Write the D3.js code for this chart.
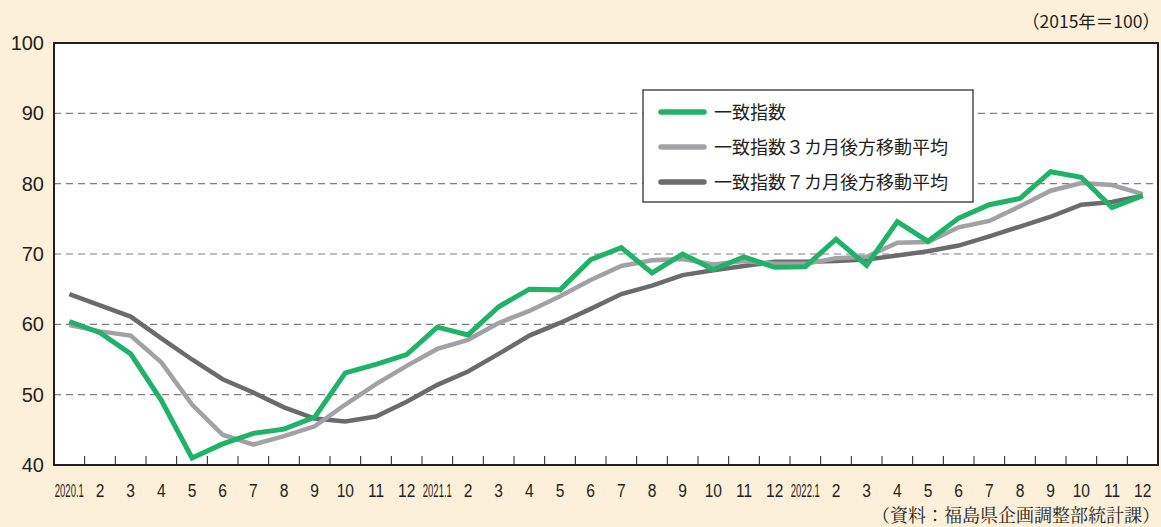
<!DOCTYPE html>
<html><head><meta charset="utf-8">
<script src="https://cdn.jsdelivr.net/npm/d3@7"></script>
<style>
html,body{margin:0;padding:0;background:#fdf0da;}
svg{display:block;}
</style></head>
<body>
<svg id="c" width="1161" height="527"></svg>
<script>
const months = ["2020.1","2","3","4","5","6","7","8","9","10","11","12",
  "2021.1","2","3","4","5","6","7","8","9","10","11","12",
  "2022.1","2","3","4","5","6","7","8","9","10","11","12"];
const coincident = [60.4,58.8,55.8,49.2,41.0,43.0,44.5,45.1,46.8,53.1,54.3,55.7,
  59.6,58.5,62.5,65.0,64.9,69.2,70.9,67.3,70.0,67.8,69.6,68.1,
  68.2,72.1,68.4,74.6,71.8,75.1,77.0,77.9,81.7,80.9,76.6,78.3];
const ma3 = [59.9,59.0,58.4,54.6,48.6,44.3,42.9,44.1,45.5,48.6,51.5,54.1,
  56.5,57.8,60.2,61.9,64.0,66.3,68.3,69.1,69.3,68.5,69.0,68.6,
  68.6,69.4,69.6,71.6,71.7,73.8,74.7,76.8,79.0,80.1,79.8,78.5];
const ma7 = [64.3,62.7,61.1,58.0,55.0,52.2,50.3,48.2,46.6,46.2,46.9,49.0,
  51.4,53.3,55.8,58.4,60.2,62.2,64.3,65.5,67.0,67.7,68.3,68.9,
  68.9,69.0,69.2,69.8,70.4,71.2,72.5,73.9,75.3,77.0,77.4,78.3];
const yTicks = [40,50,60,70,80,90,100];
const seriesNames = ["一致指数","一致指数３カ月後方移動平均","一致指数７カ月後方移動平均"];
const seriesColors = ["#1fb36a","#a2a2a6","#6b6b6e"];
const seriesData = [coincident, ma3, ma7];

const svg = d3.select("#c");
const L = 54, T = 43, R = 1158, B = 465;
const x = d3.scaleBand().domain(d3.range(months.length)).range([L, R]);
const y = d3.scaleLinear().domain([40, 100]).range([B, T]);

// plot background
svg.append("rect").attr("x", L).attr("y", T).attr("width", R - L).attr("height", B - T).attr("fill", "#fff");

// grid lines
svg.append("g").selectAll("line").data(yTicks.filter(d => d > 40 && d < 100)).join("line")
  .attr("x1", L).attr("x2", R).attr("y1", d => y(d)).attr("y2", d => y(d))
  .attr("stroke", "#7f7f7f").attr("stroke-width", 1.2).attr("stroke-dasharray", "7,5");

// x ticks (between months), pointing up
svg.append("g").selectAll("line").data(d3.range(1, months.length)).join("line")
  .attr("x1", d => x(d)).attr("x2", d => x(d)).attr("y1", B).attr("y2", B - 9)
  .attr("stroke", "#231f20").attr("stroke-width", 1);

// lines
const line = d3.line().x((d, i) => x(i) + x.bandwidth() / 2).y(d => y(d));
[2, 1, 0].forEach(k => {
  svg.append("path").datum(seriesData[k]).attr("d", line)
    .attr("fill", "none").attr("stroke", seriesColors[k])
    .attr("stroke-width", k === 0 ? 5 : 4.5).attr("stroke-linejoin", "miter");
});

// frame
svg.append("rect").attr("x", L).attr("y", T).attr("width", R - L).attr("height", B - T)
  .attr("fill", "none").attr("stroke", "#231f20").attr("stroke-width", 2);

// y labels
svg.append("g").selectAll("text").data(yTicks).join("text")
  .attr("x", 44).attr("y", d => y(d) + 7).attr("text-anchor", "end")
  .attr("font-family", "Liberation Sans, Arial, sans-serif").attr("font-size", 20)
  .attr("fill", "#231f20").text(d => d);

// x labels
svg.append("g").selectAll("text").data(months).join("text")
  .attr("transform", (d, i) => `translate(${x(i) + x.bandwidth() / 2},497) scale(${d.length > 3 ? 0.5 : 0.82},1)`)
  .attr("text-anchor", "middle")
  .attr("font-family", "Liberation Sans, Arial, sans-serif").attr("font-size", 19)
  .attr("fill", "#231f20").text(d => d);

// unit note
svg.append("text").attr("x", 1160).attr("y", 28).attr("text-anchor", "end")
  .attr("font-family", "Noto Sans CJK JP, sans-serif").attr("font-size", 17.5)
  .attr("fill", "#231f20").text("（2015年＝100）");

// source
svg.append("text").attr("x", 1160).attr("y", 522).attr("text-anchor", "end")
  .attr("font-family", "Noto Serif CJK JP, Noto Sans CJK JP, serif").attr("font-size", 18)
  .attr("fill", "#231f20").text("（資料：福島県企画調整部統計課）");

// legend
const lg = svg.append("g");
lg.append("rect").attr("x", 643).attr("y", 90).attr("width", 330).attr("height", 112)
  .attr("fill", "#fff").attr("stroke", "#231f20").attr("stroke-width", 1.2);
const rowsY = [112, 147, 182];
seriesNames.forEach((n, i) => {
  lg.append("line").attr("x1", 661).attr("x2", 704).attr("y1", rowsY[i]).attr("y2", rowsY[i])
    .attr("stroke", seriesColors[i]).attr("stroke-width", 5.5).attr("stroke-linecap", "round");
  lg.append("text").attr("x", 714).attr("y", rowsY[i] + 7)
    .attr("font-family", "Noto Sans CJK JP, sans-serif").attr("font-size", 18)
    .attr("fill", "#231f20").text(n);
});
</script>
</body></html>
